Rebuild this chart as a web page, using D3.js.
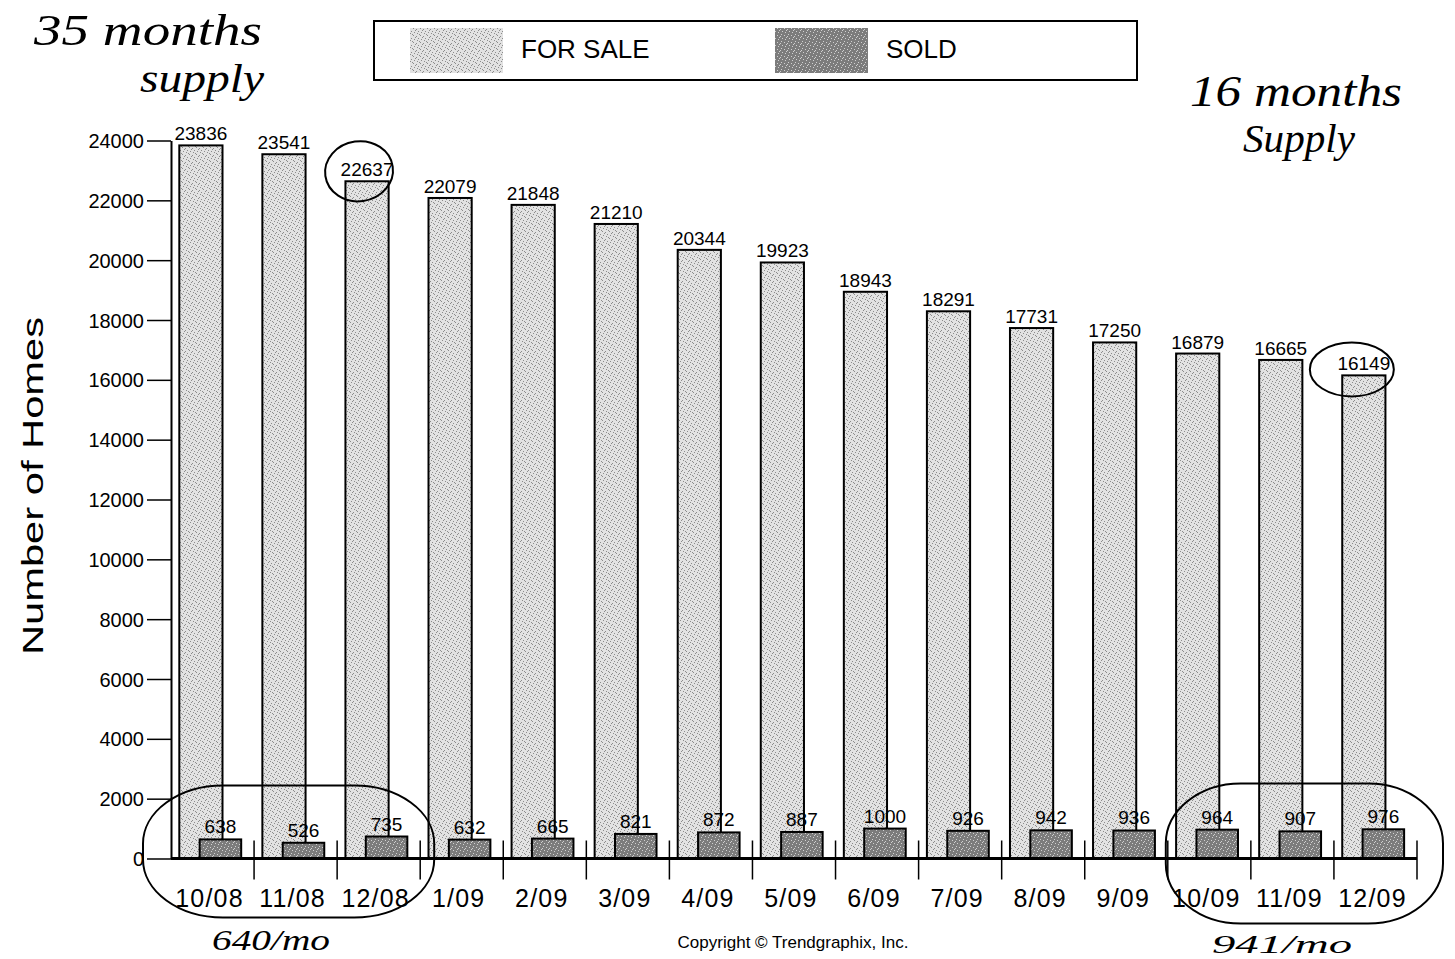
<!DOCTYPE html>
<html>
<head>
<meta charset="utf-8">
<script src="https://cdn.jsdelivr.net/npm/d3@7"></script>
<style>
  body { margin: 0; background: #fff; }
  svg { display: block; }
</style>
</head>
<body>
<figure id="bars" style="margin:0"></figure>
<script>
// months on the x axis
const months = ["10/08", "11/08", "12/08", "1/09", "2/09", "3/09", "4/09", "5/09",
  "6/09", "7/09", "8/09", "9/09", "10/09", "11/09", "12/09"];
// homes for sale, per month
const forSale = [23836, 23541, 22637, 22079, 21848, 21210, 20344, 19923,
  18943, 18291, 17731, 17250, 16879, 16665, 16149];
// homes sold, per month
const sold = [638, 526, 735, 632, 665, 821, 872, 887, 1000, 926, 942, 936, 964, 907, 976];
const yTicks = [0, 2000, 4000, 6000, 8000, 10000, 12000, 14000, 16000, 18000, 20000, 22000, 24000];
const seriesNames = ["FOR SALE", "SOLD"];

const width = 1455;
const height = 959;
const font = "'Liberation Sans', Arial, sans-serif";
const hand = "'Liberation Serif', 'DejaVu Serif', serif";

const svg = d3.select("figure#bars")
  .append("svg")
  .attr("width", width)
  .attr("height", height);

// stipple textures for the two series
const defs = svg.append("defs");
function stipple(id, bg, dot, dots) {
  const p = defs.append("pattern")
    .attr("id", id)
    .attr("patternUnits", "userSpaceOnUse")
    .attr("width", 7).attr("height", 7);
  p.append("rect").attr("width", 7).attr("height", 7).attr("fill", bg);
  dots.forEach(d => p.append("rect")
    .attr("x", d[0]).attr("y", d[1]).attr("width", 1).attr("height", 1).attr("fill", dot));
}
stipple("light", "#e2e2e2", "#8c8c8c", [[0, 0], [3, 1], [5, 3], [1, 4], [4, 5], [6, 6], [2, 2]]);
stipple("dark", "#7c7c7c", "#d0d0d0", [[0, 0], [3, 1], [5, 3], [1, 4], [4, 6], [2, 2]]);

const x = d3.scaleBand().domain(months).range([171, 1417]).padding(0);
const y = d3.scaleLinear().domain([0, 24000]).range([858.5, 140.5]);
const bw = x.bandwidth();
const saleX = m => x(m) + bw * 0.1;
const saleW = bw * 0.52;
const soldX = m => x(m) + bw * 0.345;
const soldW = bw * 0.5;

// y axis
const yAxis = svg.append("g")
  .attr("transform", "translate(171,0)")
  .call(d3.axisLeft(y).tickValues(yTicks).tickSize(24).tickSizeOuter(0).tickPadding(3)
    .tickFormat(d3.format("d")));
yAxis.select(".domain").attr("stroke", "#000").attr("stroke-width", 2);
yAxis.selectAll(".tick line").attr("stroke", "#000").attr("stroke-width", 1.5);
yAxis.selectAll(".tick text")
  .attr("font-family", font).attr("font-size", 20).attr("fill", "#000")
  .attr("dy", "0.35em");

// bars: for sale first, sold on top
const groups = svg.append("g").selectAll("g")
  .data(months)
  .enter()
  .append("g");

groups.append("rect")
  .attr("x", d => saleX(d))
  .attr("y", (d, i) => y(forSale[i]))
  .attr("width", saleW)
  .attr("height", (d, i) => y(0) - y(forSale[i]))
  .attr("fill", "url(#light)")
  .attr("stroke", "#000")
  .attr("stroke-width", 2);

groups.append("text")
  .attr("x", d => saleX(d) + saleW / 2)
  .attr("y", (d, i) => y(forSale[i]) - 5)
  .attr("text-anchor", "middle")
  .attr("font-family", font).attr("font-size", 19)
  .text((d, i) => forSale[i]);

groups.append("rect")
  .attr("x", d => soldX(d))
  .attr("y", (d, i) => y(sold[i]))
  .attr("width", soldW)
  .attr("height", (d, i) => y(0) - y(sold[i]))
  .attr("fill", "url(#dark)")
  .attr("stroke", "#000")
  .attr("stroke-width", 2);

groups.append("text")
  .attr("x", d => soldX(d) + soldW / 2)
  .attr("y", (d, i) => y(sold[i]) - 6)
  .attr("text-anchor", "middle")
  .attr("font-family", font).attr("font-size", 19)
  .text((d, i) => sold[i]);

// x axis
const xAxis = svg.append("g");
xAxis.append("line")
  .attr("x1", 171).attr("x2", 1417)
  .attr("y1", y(0)).attr("y2", y(0))
  .attr("stroke", "#000").attr("stroke-width", 3);
xAxis.selectAll(".sep")
  .data(months)
  .enter()
  .append("line")
  .attr("x1", d => x(d) + bw).attr("x2", d => x(d) + bw)
  .attr("y1", y(0) - 18).attr("y2", y(0) + 21)
  .attr("stroke", "#000").attr("stroke-width", 1.5);
xAxis.selectAll(".lbl")
  .data(months)
  .enter()
  .append("text")
  .attr("x", d => x(d) + bw / 2 - 3)
  .attr("y", 907)
  .attr("text-anchor", "middle")
  .attr("font-family", font).attr("font-size", 25)
  .attr("letter-spacing", 1.2)
  .text(d => d);

// axis title
svg.append("text")
  .attr("transform", "translate(43,486) rotate(-90)")
  .attr("text-anchor", "middle")
  .attr("font-family", font).attr("font-size", 30)
  .attr("textLength", 338).attr("lengthAdjust", "spacingAndGlyphs")
  .text("Number of Homes");

// legend
const legend = svg.append("g");
legend.append("rect")
  .attr("x", 374).attr("y", 21).attr("width", 763).attr("height", 59)
  .attr("fill", "#fff").attr("stroke", "#000").attr("stroke-width", 2);
const legendX = [410, 775];
seriesNames.forEach((name, i) => {
  legend.append("rect")
    .attr("x", legendX[i]).attr("y", 28).attr("width", 93).attr("height", 45)
    .attr("fill", i === 0 ? "url(#light)" : "url(#dark)");
  legend.append("text")
    .attr("x", legendX[i] + 111).attr("y", 58)
    .attr("font-family", font).attr("font-size", 26)
    .text(name);
});

// copyright
svg.append("text")
  .attr("x", 793).attr("y", 948)
  .attr("text-anchor", "middle")
  .attr("font-family", font).attr("font-size", 17)
  .text("Copyright \u00A9 Trendgraphix, Inc.");

// handwritten notes
const notes = svg.append("g")
  .attr("font-family", hand).attr("font-style", "italic").attr("fill", "#000");
notes.append("text").attr("x", 34).attr("y", 45).attr("font-size", 44)
  .attr("textLength", 228).attr("lengthAdjust", "spacingAndGlyphs").text("35 months");
notes.append("text").attr("x", 140).attr("y", 92).attr("font-size", 40)
  .attr("textLength", 124).attr("lengthAdjust", "spacingAndGlyphs").text("supply");
notes.append("text").attr("x", 1190).attr("y", 106).attr("font-size", 44)
  .attr("textLength", 212).attr("lengthAdjust", "spacingAndGlyphs").text("16 months");
notes.append("text").attr("x", 1243).attr("y", 152).attr("font-size", 40)
  .attr("textLength", 112).attr("lengthAdjust", "spacingAndGlyphs").text("Supply");
notes.append("text").attr("x", 212).attr("y", 950).attr("font-size", 29)
  .attr("textLength", 118).attr("lengthAdjust", "spacingAndGlyphs").text("640/mo");
notes.append("text").attr("x", 1212).attr("y", 953).attr("font-size", 26)
  .attr("textLength", 140).attr("lengthAdjust", "spacingAndGlyphs").text("941/mo");

// circled notes, placed from the scales
const loops = svg.append("g").attr("fill", "none").attr("stroke", "#000").attr("stroke-width", 2);
const c1x = saleX(months[2]) + saleW / 2 - 8, c1y = y(forSale[2]) - 10;
loops.append("ellipse")
  .attr("cx", c1x).attr("cy", c1y)
  .attr("rx", 34).attr("ry", 30)
  .attr("transform", `rotate(-8 ${c1x} ${c1y})`);
loops.append("ellipse")
  .attr("cx", saleX(months[14]) + saleW / 2 - 12).attr("cy", y(forSale[14]) - 6)
  .attr("rx", 42).attr("ry", 27);
// rounded loops round the first and last three months
loops.append("rect")
  .attr("x", x(months[0]) - 28).attr("y", y(0) - 73)
  .attr("width", x(months[2]) + bw - x(months[0]) + 42).attr("height", 132)
  .attr("rx", 80).attr("ry", 58);
loops.append("rect")
  .attr("x", x(months[12]) - 2).attr("y", y(0) - 75)
  .attr("width", x(months[14]) + bw - x(months[12]) + 28).attr("height", 140)
  .attr("rx", 75).attr("ry", 60);
</script>
</body>
</html>
